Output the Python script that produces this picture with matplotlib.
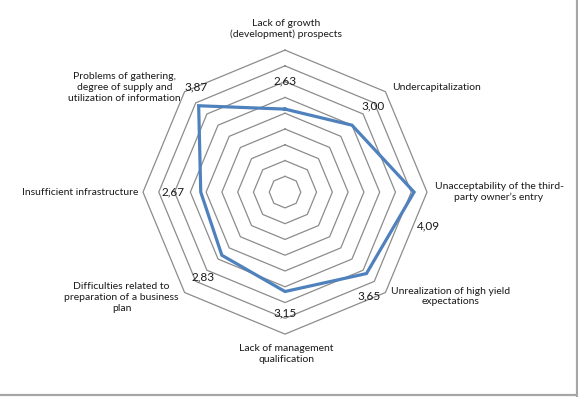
import numpy as np
import matplotlib
matplotlib.use('Agg')
from matplotlib import pyplot as plt
from matplotlib.lines import Line2D

# categories clockwise from the top
categories = ['Lack of growth\n(development) prospects',
              'Undercapitalization',
              'Unacceptability of the third-\nparty owner\u2019s entry',
              'Unrealization of high yield\nexpectations',
              'Lack of management\nqualification',
              'Difficulties related to\npreparation of a business\nplan',
              'Insufficient infrastructure',
              'Problems of gathering,\ndegree of supply and\nutilization of information']
values = [2.63, 3.00, 4.09, 3.65, 3.15, 2.83, 2.67, 3.87]
value_labels = ['2,63', '3,00', '4,09', '3,65', '3,15', '2,83', '2,67', '3,87']
rings = [0.5, 1.0, 1.5, 2.0, 2.5, 3.0, 3.5, 4.0, 4.5]

# pixel offsets for the text (layout only)
val_off = [(0, 28), (21, 19), (14, -34), (3, -22), (0, -21), (-19, -22), (-28, 0), (-3, 19)]
cat_off = [(1, 21), (51, 4), (72, 0), (65, -4), (1, -20), (-63, -5), (-63, 0), (-60, 4)]

plt.rcParams['font.family'] = ['Lato', 'DejaVu Sans']

fig = plt.figure(figsize=(5.78, 3.97), dpi=100)
ax = fig.add_axes([0.2474, 0.1584, 0.4914, 0.7154], projection='polar')
ax.set_theta_offset(np.pi / 2)
ax.set_theta_direction(-1)
ax.set_ylim(0, 4.5)
ax.axis('off')

n = len(categories)
theta = np.linspace(0, 2 * np.pi, n, endpoint=False)
theta_c = np.append(theta, theta[0])

for r in rings:
    ax.plot(theta_c, [r] * (n + 1), color='#8c8c8c', lw=0.9, clip_on=False)

ax.plot(theta_c, values + [values[0]], color='#4f81bd', lw=2.3,
        solid_joinstyle='miter', clip_on=False, zorder=5)

for i in range(n):
    ax.annotate(value_labels[i], xy=(theta[i], values[i]), xytext=val_off[i],
                textcoords='offset pixels', ha='center', va='center',
                fontsize=8.5, color='#1a1a1a', zorder=6)
    ax.annotate(categories[i], xy=(theta[i], rings[-1]), xytext=cat_off[i],
                textcoords='offset pixels', ha='center', va='center',
                fontsize=7.5, color='#1a1a1a', linespacing=1.25)

# chart frame (right and bottom edges visible)
fig.add_artist(Line2D([576.5 / 578, 576.5 / 578], [0, 1], color='#a6a6a6', lw=1.6))
fig.add_artist(Line2D([0, 1], [1 - 395 / 397, 1 - 395 / 397], color='#a6a6a6', lw=1.6))

fig.savefig('out.png', dpi=100)
